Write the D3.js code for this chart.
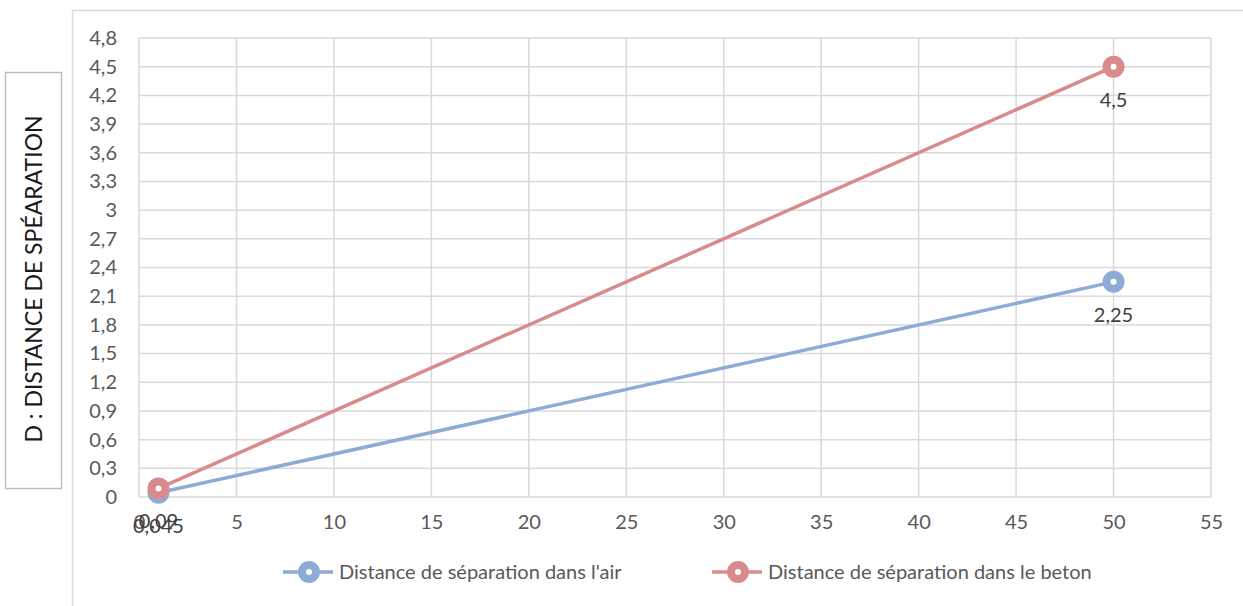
<!DOCTYPE html>
<html>
<head>
<meta charset="utf-8">
<script src="https://cdn.jsdelivr.net/npm/d3@7"></script>
<style>
  html, body { margin: 0; padding: 0; background: #fff; }
  svg text { font-family: Lato, "Noto Sans", sans-serif; }
</style>
</head>
<body>
<svg id="chart" width="1243" height="606"></svg>
<script>
// données
var xValues = [1, 50];
var airValues = [0.045, 2.25];
var betonValues = [0.09, 4.5];
var seriesNames = ["Distance de séparation dans l'air", "Distance de séparation dans le beton"];
var xTicks = d3.range(0, 56, 5);
var yTicks = d3.range(0, 17).map(i => +(i * 0.3).toFixed(1));
var yTitle = "D : DISTANCE DE SPÉARATION";

var colors = ["#8eabd6", "#d98b8c"];
var fmt = v => String(v).replace(".", ",");

var svg = d3.select("#chart");
var margin = {left: 139, right: 1211, top: 38, bottom: 497};

var x = d3.scaleLinear().domain([0, 55]).range([margin.left, margin.right]);
var y = d3.scaleLinear().domain([0, 4.8]).range([margin.bottom, margin.top]);

// cadre du graphique
svg.append("path")
    .attr("d", "M72.5,606 V10.5 H1243")
    .attr("fill", "none")
    .attr("stroke", "#d9d9d9")
    .attr("stroke-width", 1.5);

// titre de l'axe vertical dans une boîte
svg.append("rect")
    .attr("x", 5.5).attr("y", 72.5)
    .attr("width", 56).attr("height", 416)
    .attr("fill", "#fff")
    .attr("stroke", "#bfbfbf")
    .attr("stroke-width", 1.5);
svg.append("text")
    .attr("transform", "translate(42,279) rotate(-90)")
    .attr("text-anchor", "middle")
    .attr("font-size", 23)
    .attr("fill", "#1a1a1a")
    .text(yTitle);

// grille
var grid = svg.append("g");
grid.selectAll(".hg").data(yTicks).enter().append("line")
    .attr("x1", margin.left).attr("x2", margin.right)
    .attr("y1", d => y(d)).attr("y2", d => y(d))
    .attr("stroke", "#d9d9d9").attr("stroke-width", 1.5);
grid.selectAll(".vg").data(xTicks).enter().append("line")
    .attr("x1", d => x(d)).attr("x2", d => x(d))
    .attr("y1", margin.top).attr("y2", margin.bottom)
    .attr("stroke", "#d9d9d9").attr("stroke-width", 1.5);

// axes
var yAxis = d3.axisLeft(y).tickValues(yTicks).tickSize(0).tickPadding(22).tickFormat(fmt);
svg.append("g").attr("transform", `translate(${margin.left},0)`).call(yAxis)
    .call(g => g.select(".domain").remove())
    .selectAll("text").attr("font-size", 20).attr("fill", "#595959")
    .attr("font-family", "Lato, 'Noto Sans', sans-serif");

var xAxis = d3.axisBottom(x).tickValues(xTicks).tickSize(0).tickPadding(18).tickFormat(fmt);
svg.append("g").attr("transform", `translate(0,${margin.bottom})`).call(xAxis)
    .call(g => g.select(".domain").remove())
    .selectAll("text").attr("font-size", 20).attr("fill", "#595959")
    .attr("font-family", "Lato, 'Noto Sans', sans-serif");

// séries
var series = [airValues, betonValues].map((vals, i) => ({
    name: seriesNames[i],
    color: colors[i],
    points: vals.map((v, j) => ({x: xValues[j], y: v}))
}));

var line = d3.line().x(d => x(d.x)).y(d => y(d.y));

series.forEach(s => {
    var g = svg.append("g");
    g.append("path")
        .attr("d", line(s.points))
        .attr("fill", "none")
        .attr("stroke", s.color)
        .attr("stroke-width", 3.5);
    g.selectAll("circle").data(s.points).enter().append("circle")
        .attr("cx", d => x(d.x)).attr("cy", d => y(d.y))
        .attr("r", 7)
        .attr("fill", "#fff")
        .attr("stroke", s.color)
        .attr("stroke-width", 8);
    g.selectAll("text").data(s.points).enter().append("text")
        .attr("x", d => x(d.x)).attr("y", d => y(d.y) + 40)
        .attr("text-anchor", "middle")
        .attr("font-size", 20)
        .attr("fill", "#404040")
        .text(d => fmt(d.y));
});

// légende
var legendX = [283, 712];
series.forEach((s, i) => {
    var g = svg.append("g").attr("transform", `translate(${legendX[i]},572)`);
    g.append("line").attr("x1", 0).attr("x2", 50)
        .attr("stroke", s.color).attr("stroke-width", 3.5);
    g.append("circle").attr("cx", 26).attr("r", 7)
        .attr("fill", "#fff").attr("stroke", s.color).attr("stroke-width", 8);
    g.append("text").attr("x", 56).attr("y", 7)
        .attr("font-size", 20).attr("fill", "#595959")
        .text(s.name);
});
</script>
</body>
</html>
